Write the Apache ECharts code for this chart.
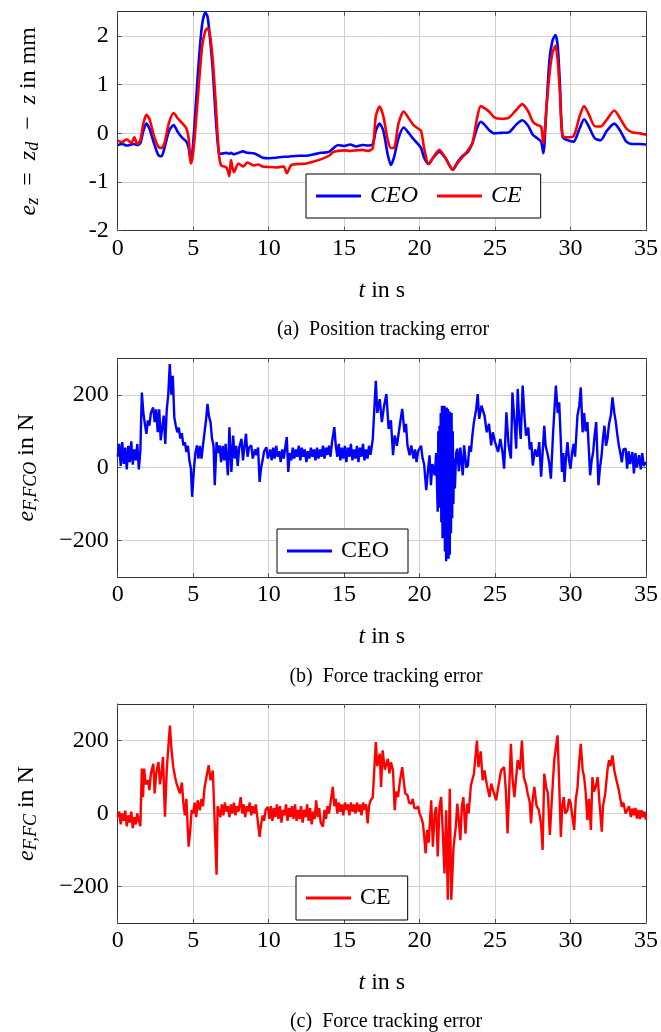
<!DOCTYPE html>
<html><head><meta charset="utf-8">
<script src="https://cdn.jsdelivr.net/npm/echarts@6/dist/echarts.min.js"></script>
<style>html,body{margin:0;padding:0;background:#fff}#c{width:661px;height:1032px}</style>
</head><body><div id="c"></div>
<script>
// x ticks
const xTicks = [0,5,10,15,20,25,30,35];
const yTicksPos = [-2,-1,0,1,2];
const yTicksForce = [-200,0,200];

// (a) position tracking error e_z [t, mm]
const ezCEO = [[0,-0.24],[0.3,-0.22],[0.6,-0.25],[0.9,-0.23],[1.1,-0.22],[1.3,-0.24],[1.5,-0.2],[1.7,0.05],[1.9,0.2],[2.1,0.1],[2.4,-0.2],[2.7,-0.45],[2.9,-0.47],[3.1,-0.3],[3.4,0.05],[3.7,0.17],[4.0,0.02],[4.3,-0.1],[4.55,-0.17],[4.7,-0.3],[4.85,-0.58],[5.0,-0.2],[5.2,0.7],[5.4,1.6],[5.6,2.25],[5.8,2.48],[5.95,2.4],[6.1,2.0],[6.3,1.3],[6.5,0.3],[6.7,-0.4],[6.85,-0.42],[7.2,-0.4],[7.4,-0.42],[7.5,-0.4],[7.7,-0.43],[8.0,-0.4],[8.3,-0.37],[8.6,-0.4],[9.0,-0.41],[9.3,-0.45],[9.6,-0.5],[10.0,-0.51],[10.5,-0.5],[11.0,-0.48],[11.2,-0.48],[11.5,-0.47],[12.0,-0.46],[12.5,-0.46],[13.0,-0.43],[13.5,-0.4],[14.0,-0.38],[14.3,-0.3],[14.6,-0.24],[15.0,-0.26],[15.4,-0.23],[15.8,-0.27],[16.2,-0.24],[16.6,-0.25],[16.9,-0.22],[17.1,0.05],[17.35,0.2],[17.6,0.05],[17.9,-0.45],[18.1,-0.65],[18.3,-0.5],[18.6,-0.1],[18.95,0.12],[19.3,0.0],[19.6,-0.12],[19.9,-0.22],[20.1,-0.3],[20.3,-0.5],[20.6,-0.63],[20.9,-0.5],[21.3,-0.38],[21.7,-0.5],[22.2,-0.74],[22.5,-0.6],[22.8,-0.48],[23.2,-0.38],[23.5,-0.2],[23.8,0.1],[24.05,0.24],[24.3,0.18],[24.6,0.07],[24.95,0.0],[25.4,0.01],[25.9,0.02],[26.4,0.18],[26.8,0.27],[27.2,0.15],[27.5,-0.03],[27.8,-0.1],[28.05,-0.17],[28.2,-0.41],[28.4,0.5],[28.6,1.5],[28.8,1.9],[29.0,2.02],[29.15,1.8],[29.3,1.0],[29.47,-0.07],[29.8,-0.14],[30.2,-0.17],[30.6,0.1],[30.9,0.29],[31.2,0.15],[31.6,-0.1],[32.0,-0.14],[32.4,0.05],[32.9,0.2],[33.3,0.05],[33.7,-0.17],[34.1,-0.22],[34.6,-0.22],[35.0,-0.23]];
const ezCE = [[0,-0.15],[0.3,-0.18],[0.6,-0.12],[0.9,-0.2],[1.1,-0.08],[1.3,-0.22],[1.5,-0.14],[1.7,0.2],[1.9,0.38],[2.1,0.3],[2.4,-0.05],[2.7,-0.28],[2.9,-0.3],[3.1,-0.2],[3.4,0.22],[3.7,0.42],[4.0,0.3],[4.3,0.2],[4.55,0.1],[4.7,-0.1],[4.85,-0.62],[5.0,-0.4],[5.2,0.3],[5.4,1.1],[5.6,1.8],[5.8,2.1],[5.95,2.16],[6.1,2.05],[6.3,1.5],[6.5,0.6],[6.7,-0.4],[6.85,-0.66],[7.2,-0.7],[7.4,-0.88],[7.5,-0.55],[7.7,-0.8],[8.0,-0.62],[8.3,-0.68],[8.6,-0.6],[9.0,-0.66],[9.3,-0.64],[9.6,-0.68],[10.0,-0.69],[10.5,-0.7],[11.0,-0.68],[11.2,-0.82],[11.5,-0.65],[12.0,-0.63],[12.5,-0.62],[13.0,-0.58],[13.5,-0.53],[14.0,-0.46],[14.3,-0.38],[14.6,-0.36],[15.0,-0.35],[15.4,-0.36],[15.8,-0.35],[16.2,-0.34],[16.6,-0.36],[16.9,-0.3],[17.1,0.35],[17.35,0.55],[17.6,0.35],[17.9,-0.15],[18.1,-0.3],[18.3,-0.3],[18.6,0.2],[18.95,0.45],[19.3,0.3],[19.6,0.17],[19.9,0.1],[20.1,0.05],[20.3,-0.3],[20.6,-0.63],[20.9,-0.5],[21.3,-0.34],[21.7,-0.5],[22.2,-0.75],[22.5,-0.62],[22.8,-0.5],[23.2,-0.35],[23.5,-0.2],[23.8,0.3],[24.05,0.56],[24.3,0.52],[24.6,0.45],[24.95,0.33],[25.4,0.3],[25.9,0.32],[26.4,0.48],[26.8,0.6],[27.2,0.45],[27.5,0.24],[27.8,0.17],[28.05,0.14],[28.2,-0.2],[28.4,0.5],[28.6,1.2],[28.8,1.65],[29.0,1.8],[29.15,1.5],[29.3,0.8],[29.47,-0.05],[29.8,-0.08],[30.2,-0.06],[30.6,0.35],[30.9,0.56],[31.2,0.4],[31.6,0.15],[32.0,0.14],[32.4,0.28],[32.9,0.47],[33.3,0.3],[33.7,0.1],[34.1,0.02],[34.6,0.0],[35.0,-0.03]];

// (b) force tracking error CEO [t, N]
const fCEO = [[0,30],[0.1,65],[0.2,5],[0.3,70],[0.4,10],[0.5,55],[0.6,-5],[0.7,60],[0.8,15],[0.9,72],[1.0,8],[1.1,50],[1.2,20],[1.3,65],[1.4,-5],[1.5,45],[1.6,206],[1.7,150],[1.8,120],[1.9,93],[2.0,130],[2.1,115],[2.2,150],[2.35,165],[2.45,125],[2.55,160],[2.65,97],[2.75,160],[2.85,75],[2.95,110],[3.05,143],[3.15,65],[3.25,160],[3.35,200],[3.45,284],[3.55,200],[3.65,252],[3.75,138],[3.85,115],[3.95,97],[4.05,110],[4.15,80],[4.25,95],[4.35,61],[4.45,70],[4.55,43],[4.65,60],[4.75,20],[4.85,-3],[4.93,-80],[5.05,-3],[5.15,40],[5.25,61],[5.35,25],[5.45,60],[5.55,25],[5.7,79],[5.85,130],[5.95,175],[6.05,140],[6.15,125],[6.25,79],[6.35,60],[6.43,-48],[6.55,70],[6.65,40],[6.75,61],[6.85,15],[6.95,60],[7.05,20],[7.15,65],[7.3,-21],[7.4,111],[7.53,-12],[7.65,88],[7.75,25],[7.85,60],[7.95,5],[8.05,55],[8.2,79],[8.3,20],[8.4,60],[8.5,93],[8.6,30],[8.7,55],[8.85,61],[8.95,25],[9.1,50],[9.2,34],[9.3,55],[9.4,-39],[9.5,0],[9.6,20],[9.7,45],[9.85,56],[9.95,25],[10.1,50],[10.2,20],[10.3,55],[10.4,25],[10.5,60],[10.6,30],[10.7,45],[10.8,15],[10.9,50],[11.0,25],[11.1,55],[11.2,84],[11.3,-12],[11.4,40],[11.5,20],[11.6,55],[11.7,25],[11.8,50],[11.9,30],[12.0,60],[12.1,20],[12.2,55],[12.3,30],[12.4,50],[12.5,15],[12.6,45],[12.7,25],[12.8,55],[12.9,30],[13.0,50],[13.1,20],[13.2,55],[13.3,25],[13.4,50],[13.5,30],[13.6,60],[13.7,25],[13.8,55],[13.9,35],[14.0,60],[14.1,30],[14.2,70],[14.35,111],[14.45,60],[14.55,30],[14.65,65],[14.75,20],[14.85,55],[14.95,25],[15.05,60],[15.15,15],[15.25,55],[15.35,30],[15.45,65],[15.55,20],[15.65,50],[15.75,25],[15.85,60],[15.95,15],[16.05,55],[16.15,30],[16.25,65],[16.35,20],[16.45,50],[16.55,25],[16.65,60],[16.75,35],[16.9,79],[17.1,238],[17.2,150],[17.36,188],[17.5,125],[17.65,170],[17.8,202],[17.95,106],[18.1,130],[18.24,34],[18.35,88],[18.5,60],[18.7,120],[18.85,161],[19.0,97],[19.1,120],[19.2,60],[19.34,34],[19.45,61],[19.6,25],[19.7,50],[19.8,15],[19.9,45],[20.0,43],[20.1,60],[20.2,25],[20.3,10],[20.44,-62],[20.55,-10],[20.66,34],[20.75,-48],[20.85,10],[21.0,-21],[21.1,40],[21.2,-121],[21.24,100],[21.28,-110],[21.32,115],[21.36,-100],[21.4,150],[21.44,-150],[21.48,170],[21.52,-194],[21.56,165],[21.6,-180],[21.64,170],[21.68,-230],[21.72,160],[21.76,-257],[21.8,165],[21.84,-240],[21.88,161],[21.92,-250],[21.96,155],[22.0,-239],[22.04,152],[22.08,-180],[22.12,150],[22.16,-139],[22.2,100],[22.24,-100],[22.28,25],[22.34,-57],[22.42,40],[22.5,52],[22.6,-10],[22.7,55],[22.86,-21],[22.95,61],[23.1,0],[23.2,6],[23.3,60],[23.4,43],[23.5,90],[23.6,125],[23.75,160],[23.85,202],[23.95,134],[24.1,170],[24.3,143],[24.45,97],[24.6,120],[24.74,61],[24.85,97],[25.0,70],[25.2,43],[25.35,79],[25.5,40],[25.6,-3],[25.75,152],[25.9,60],[26.05,25],[26.15,206],[26.3,120],[26.4,52],[26.5,216],[26.6,130],[26.7,79],[26.83,225],[26.95,140],[27.05,88],[27.2,110],[27.3,50],[27.4,70],[27.5,6],[27.65,50],[27.8,30],[27.93,70],[28.05,-25],[28.15,40],[28.26,115],[28.35,60],[28.5,34],[28.6,10],[28.7,-30],[28.85,100],[29.03,225],[29.15,150],[29.25,179],[29.35,80],[29.43,-12],[29.52,40],[29.6,-39],[29.7,30],[29.8,70],[29.9,20],[30.0,-3],[30.1,40],[30.2,65],[30.3,30],[30.46,143],[30.58,170],[30.68,220],[30.8,97],[30.9,150],[31.0,100],[31.12,125],[31.2,60],[31.3,-21],[31.4,20],[31.5,43],[31.6,90],[31.7,125],[31.85,-48],[31.95,0],[32.06,34],[32.15,80],[32.25,115],[32.35,60],[32.45,79],[32.55,120],[32.67,143],[32.78,193],[32.9,150],[33.0,125],[33.1,90],[33.2,61],[33.3,40],[33.4,15],[33.5,50],[33.65,52],[33.75,-3],[33.85,45],[33.95,10],[34.1,43],[34.2,-16],[34.3,40],[34.4,0],[34.54,34],[34.65,-5],[34.75,40],[34.85,5],[35.0,15]];

// (c) force tracking error CE [t, N]
const fCE = [[0,-10],[0.1,5],[0.2,-30],[0.3,0],[0.4,-20],[0.5,8],[0.6,-35],[0.7,-5],[0.8,-25],[0.9,5],[1.0,-40],[1.1,-10],[1.2,-30],[1.3,0],[1.4,-20],[1.5,-35],[1.6,123],[1.68,45],[1.75,123],[1.85,80],[2.0,91],[2.1,64],[2.2,110],[2.36,136],[2.45,55],[2.55,110],[2.7,141],[2.8,80],[2.9,110],[3.0,155],[3.13,-9],[3.25,120],[3.35,180],[3.46,241],[3.55,182],[3.68,127],[3.8,100],[3.9,82],[4.0,70],[4.12,55],[4.25,85],[4.35,30],[4.45,-5],[4.55,40],[4.7,-91],[4.8,-50],[4.9,10],[5.0,0],[5.1,30],[5.2,-10],[5.3,36],[5.44,9],[5.55,40],[5.65,20],[5.75,70],[5.88,100],[6.03,132],[6.15,91],[6.3,118],[6.43,118],[6.55,-168],[6.62,20],[6.7,18],[6.8,-10],[6.9,25],[7.0,-5],[7.1,30],[7.2,5],[7.3,20],[7.4,-10],[7.5,25],[7.6,0],[7.7,30],[7.8,-5],[7.9,20],[8.0,5],[8.15,45],[8.25,0],[8.35,25],[8.45,-10],[8.55,20],[8.65,5],[8.75,30],[8.85,-5],[8.95,20],[9.05,0],[9.15,25],[9.25,-10],[9.4,-64],[9.5,-30],[9.6,-5],[9.7,-20],[9.8,10],[9.95,18],[10.05,-15],[10.15,20],[10.25,-20],[10.35,15],[10.45,-10],[10.55,25],[10.65,-15],[10.75,20],[10.85,-25],[10.95,10],[11.05,-5],[11.15,25],[11.25,-20],[11.35,15],[11.45,-10],[11.55,20],[11.65,-15],[11.75,25],[11.85,-20],[11.95,10],[12.05,-15],[12.15,20],[12.25,-25],[12.35,10],[12.45,-10],[12.55,25],[12.65,-20],[12.75,15],[12.85,-30],[12.95,5],[13.05,-15],[13.15,36],[13.25,-10],[13.35,15],[13.45,-25],[13.6,-36],[13.7,10],[13.8,-15],[13.9,20],[14.0,0],[14.1,30],[14.25,73],[14.35,20],[14.45,40],[14.55,0],[14.65,30],[14.75,5],[14.85,25],[14.95,-5],[15.05,30],[15.15,10],[15.25,25],[15.35,-5],[15.45,30],[15.55,5],[15.65,25],[15.75,0],[15.85,30],[15.95,5],[16.05,25],[16.15,-5],[16.25,30],[16.35,10],[16.45,25],[16.56,-27],[16.65,20],[16.75,35],[16.9,45],[17.1,196],[17.2,130],[17.36,164],[17.45,73],[17.55,173],[17.7,120],[17.9,150],[18.0,110],[18.1,140],[18.24,118],[18.35,9],[18.45,60],[18.57,45],[18.7,90],[18.85,127],[18.95,90],[19.05,55],[19.2,50],[19.3,30],[19.45,27],[19.55,40],[19.65,15],[19.8,14],[19.9,20],[20.0,0],[20.1,-10],[20.22,-27],[20.3,-60],[20.4,-109],[20.5,-45],[20.6,-80],[20.77,36],[20.88,-91],[21.0,0],[21.1,18],[21.2,-118],[21.32,20],[21.43,45],[21.54,-55],[21.65,-164],[21.76,9],[21.87,-236],[22.0,68],[22.1,-236],[22.25,-91],[22.4,-36],[22.5,27],[22.6,-20],[22.7,-73],[22.8,20],[22.9,45],[23.04,-55],[23.15,27],[23.25,0],[23.4,77],[23.6,109],[23.8,200],[23.9,127],[24.05,170],[24.18,91],[24.3,118],[24.45,80],[24.63,45],[24.75,82],[24.9,60],[25.07,36],[25.2,70],[25.4,118],[25.6,127],[25.72,60],[25.83,-55],[25.95,80],[26.05,191],[26.15,100],[26.28,45],[26.4,100],[26.5,146],[26.65,120],[26.78,200],[26.9,100],[27.05,80],[27.16,55],[27.3,30],[27.38,-27],[27.5,40],[27.6,73],[27.75,20],[27.9,10],[28.05,-30],[28.15,-100],[28.26,109],[28.4,70],[28.5,55],[28.63,-59],[28.75,30],[28.92,146],[29.14,214],[29.25,82],[29.36,-64],[29.45,20],[29.55,45],[29.65,0],[29.8,9],[29.9,40],[30.0,30],[30.1,0],[30.24,-45],[30.35,40],[30.46,70],[30.55,130],[30.68,191],[30.8,120],[30.9,100],[31.0,60],[31.12,-18],[31.22,40],[31.35,-45],[31.45,100],[31.55,60],[31.67,73],[31.8,100],[31.9,40],[32.07,-50],[32.15,20],[32.3,55],[32.45,120],[32.55,146],[32.65,130],[32.78,159],[32.9,118],[33.05,90],[33.2,64],[33.3,40],[33.4,18],[33.5,30],[33.65,0],[33.77,-5],[33.88,20],[34.0,-10],[34.1,14],[34.2,-5],[34.3,15],[34.4,-14],[34.5,10],[34.6,-15],[34.7,9],[34.8,-10],[34.9,5],[35.0,-18]];

const F = '"Liberation Serif", "Times New Roman", serif';
const FS = 24;
const AX = '#333', TK = '#555', GR = '#d2d2d2';
const BLUE = '#0000ff', RED = '#ff0000';

const grids = [
  {left:117.7, top:11.7, width:530, height:219},
  {left:117.7, top:358.3, width:530, height:218.7},
  {left:117.7, top:704, width:530, height:219}
];

const richName = {
  n:{fontFamily:F, fontSize:FS, lineHeight:28, verticalAlign:'middle', color:'#000'},
  i:{fontFamily:F, fontSize:FS, fontStyle:'italic', lineHeight:28, verticalAlign:'middle', color:'#000'},
  s:{fontFamily:F, fontSize:18, fontStyle:'italic', lineHeight:14, verticalAlign:'bottom', color:'#000'}
};

function xAxes(gi){
  return [{
    type:'value', gridIndex:gi, min:0, max:35, interval:5, position:'bottom',
    axisLine:{show:true, onZero:false, lineStyle:{color:AX, width:1}},
    axisTick:{show:true, inside:true, length:4, lineStyle:{color:TK}},
    axisLabel:{color:'#000', fontFamily:F, fontSize:FS, margin:6, showMinLabel:true, showMaxLabel:true},
    splitLine:{show:true, lineStyle:{color:GR, width:1}},
    name:'{i|t} in s', nameLocation:'middle', nameGap:46,
    nameTextStyle:{color:'#000', fontFamily:F, fontSize:FS, rich:richName}
  },{
    type:'value', gridIndex:gi, min:0, max:35, interval:5, position:'top',
    axisLine:{show:true, onZero:false, lineStyle:{color:AX, width:1}},
    axisTick:{show:true, inside:true, length:4, lineStyle:{color:TK}},
    axisLabel:{show:false}, splitLine:{show:false}
  }];
}

function yAxes(gi, min, max, interval, ticks, name, fmt, gap){
  return [{
    type:'value', gridIndex:gi, min:min, max:max, interval:interval, position:'left',
    axisLine:{show:true, onZero:false, lineStyle:{color:AX, width:1}},
    axisTick:{show:true, inside:true, length:4, lineStyle:{color:TK}, customValues:ticks},
    axisLabel:{color:'#000', fontFamily:F, fontSize:FS, margin:9, customValues:ticks, formatter:fmt},
    splitLine:{show:true, lineStyle:{color:GR, width:1}},
    name:name, nameLocation:'middle', nameGap:gap,
    nameTextStyle:{color:'#000', fontFamily:F, fontSize:FS, rich:richName}
  },{
    type:'value', gridIndex:gi, min:min, max:max, interval:interval, position:'right',
    axisLine:{show:true, onZero:false, lineStyle:{color:AX, width:1}},
    axisTick:{show:true, inside:true, length:4, lineStyle:{color:TK}, customValues:ticks},
    axisLabel:{show:false}, splitLine:{show:false}
  }];
}

const fmtPos = v => String(v);
const fmtForce = v => (v < 0 ? '\u2212' + Math.abs(v) : String(v));

const xAxis = [].concat(xAxes(0), xAxes(1), xAxes(2));
const yAxis = [].concat(
  yAxes(0, -2, 2.5, 1, yTicksPos, '{i|e}{s|z}{n|\u2002=\u2002}{i|z}{s|d}{n|\u2002\u2212\u2002}{i|z}{n| in mm}', fmtPos, 75),
  yAxes(1, -300, 300, 100, yTicksForce, '{i|e}{s|F,FCO}{n| in N}', fmtForce, 77),
  yAxes(2, -300, 300, 100, yTicksForce, '{i|e}{s|F,FC}{n| in N}', fmtForce, 77)
);

function line(name, data, xi, yi, color, w, smooth){
  return {type:'line', name:name, data:data, xAxisIndex:xi, yAxisIndex:yi,
    showSymbol:false, symbol:'none', smooth:smooth, lineStyle:{color:color, width:w},
    itemStyle:{color:color}, animation:false, z:2};
}

const legendBase = {orient:'horizontal', icon:'rect', itemWidth:45, itemHeight:3,
  borderColor:'#000', borderWidth:1, backgroundColor:'#fff', selectedMode:false,
  padding:[9,19,9,10]};

const option = {
  animation:false,
  backgroundColor:'#fff',
  grid:grids,
  xAxis:xAxis,
  yAxis:yAxis,
  legend:[
    Object.assign({}, legendBase, {left:306, top:174, itemGap:19, data:['CEO','CE'],
      textStyle:{fontFamily:F, fontSize:FS, fontStyle:'italic', color:'#000', lineHeight:26, padding:[0,0,0,4]}}),
    Object.assign({}, legendBase, {left:277, top:529, data:['CEO'],
      textStyle:{fontFamily:F, fontSize:FS, color:'#000', lineHeight:26, padding:[0,0,0,4]}}),
    Object.assign({}, legendBase, {left:296, top:876, data:['CE'], padding:[9,17,9,10],
      textStyle:{fontFamily:F, fontSize:FS, color:'#000', lineHeight:26, padding:[0,0,0,4]}})
  ],
  graphic:[
    {type:'text', x:383, y:330, style:{text:'(a)  Position tracking error', font:'20px ' + F, fill:'#000', textAlign:'center', textVerticalAlign:'middle'}},
    {type:'text', x:386, y:677, style:{text:'(b)  Force tracking error', font:'20px ' + F, fill:'#000', textAlign:'center', textVerticalAlign:'middle'}},
    {type:'text', x:386, y:1022, style:{text:'(c)  Force tracking error', font:'20px ' + F, fill:'#000', textAlign:'center', textVerticalAlign:'middle'}}
  ],
  series:[
    line('CEO', ezCEO, 0, 0, BLUE, 2.6, 0.25),
    line('CE', ezCE, 0, 0, RED, 2.6, 0.25),
    line('CEO', fCEO, 2, 2, BLUE, 2.4, false),
    line('CE', fCE, 4, 4, RED, 2.4, false)
  ]
};

const chart = echarts.init(document.getElementById('c'), null, {renderer:'canvas', width:661, height:1032});
chart.setOption(option);
</script>
</body></html>
